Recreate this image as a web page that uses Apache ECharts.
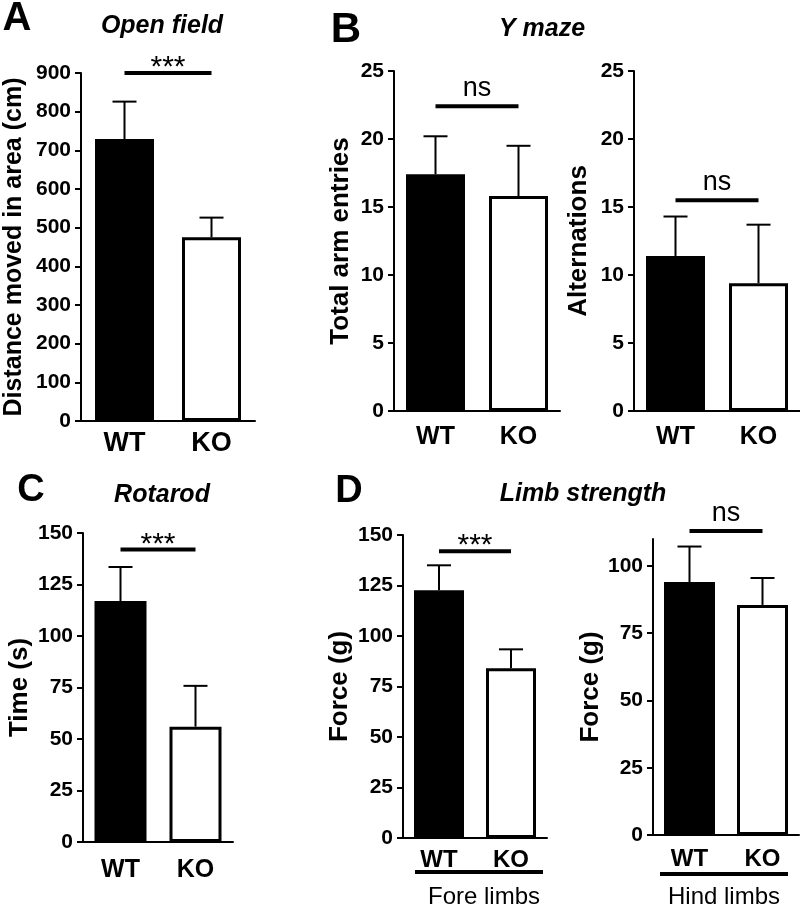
<!DOCTYPE html>
<html>
<head>
<meta charset="utf-8">
<script src="https://cdn.jsdelivr.net/npm/echarts@6/dist/echarts.min.js"></script>
<style>
  html, body { margin: 0; padding: 0; background: #fff; }
  #main { width: 800px; height: 906px; }
</style>
</head>
<body>
<div id="main"></div>
<script>
// groups on the x axis
var categories = ['WT', 'KO'];

// mean and SEM
var openFieldMean = [729, 475];
var openFieldSem = [97, 51];
var armEntriesMean = [17.4, 15.8];
var armEntriesSem = [2.8, 3.7];
var alternationsMean = [11.4, 9.4];
var alternationsSem = [2.9, 4.3];
var rotarodMean = [117, 56];
var rotarodSem = [16.5, 19.8];
var foreLimbMean = [122.7, 84];
var foreLimbSem = [12.3, 9.4];
var hindLimbMean = [94, 85.5];
var hindLimbSem = [13.2, 10];

// significance bars (label, height in data units)
var sigLabels = ['***', 'ns', 'ns', '***', '***', 'ns'];
var sigLevels = [900, 22.4, 15.5, 142, 142, 113];

// axis ranges
var yMax = [900, 25, 25, 150, 150, 110];
var yStep = [100, 5, 5, 25, 25, 25];
var hindTicks = [0, 25, 50, 75, 100];

var yNames = ['Distance moved in area (cm)', 'Total arm entries', 'Alternations',
  'Time (s)', 'Force (g)', 'Force (g)'];

var means = [openFieldMean, armEntriesMean, alternationsMean, rotarodMean, foreLimbMean, hindLimbMean];
var sems = [openFieldSem, armEntriesSem, alternationsSem, rotarodSem, foreLimbSem, hindLimbSem];

var FONT = '"Liberation Sans", Arial, Helvetica, sans-serif';

// layout of the six little plots
var panels = [
  { left: 81, top: 73, width: 174, height: 348, barWidth: 59, nameGap: 54, nameSize: 25, xSize: 27, xMargin: 9 },
  { left: 394, top: 71, width: 166, height: 340, barWidth: 59, nameGap: 40, nameSize: 26, xSize: 25, xMargin: 14 },
  { left: 634, top: 71, width: 166, height: 340, barWidth: 59, nameGap: 42, nameSize: 26, xSize: 25, xMargin: 14 },
  { left: 83, top: 533, width: 150, height: 309, barWidth: 52, nameGap: 50, nameSize: 26, xSize: 25, xMargin: 16 },
  { left: 403, top: 535, width: 144, height: 303, barWidth: 50, nameGap: 50, nameSize: 26, xSize: 24, xMargin: 10 },
  { left: 653, top: 539, width: 146, height: 296, barWidth: 51, nameGap: 41, nameSize: 26, xSize: 24, xMargin: 12 }
];

var grid = [], xAxis = [], yAxis = [], series = [];

panels.forEach(function (p, i) {
  grid.push({ left: p.left, top: p.top, width: p.width, height: p.height });

  xAxis.push({
    type: 'category', gridIndex: i, data: categories,
    axisLine: { lineStyle: { color: '#000', width: 2 } },
    axisTick: { alignWithLabel: true, length: 6, lineStyle: { color: '#000', width: 2 } },
    axisLabel: { color: '#000', fontWeight: 'bold', fontSize: p.xSize, fontFamily: FONT, margin: p.xMargin },
    splitLine: { show: false }
  });

  var ya = {
    type: 'value', gridIndex: i, min: 0, max: yMax[i], interval: yStep[i],
    name: yNames[i], nameLocation: 'middle', nameGap: p.nameGap,
    nameTextStyle: { color: '#000', fontWeight: 'bold', fontSize: p.nameSize, fontFamily: FONT },
    axisLine: { show: true, lineStyle: { color: '#000', width: 2 } },
    axisTick: { show: true, length: 6, lineStyle: { color: '#000', width: 2 } },
    axisLabel: { color: '#000', fontWeight: 'bold', fontSize: 21, fontFamily: FONT, margin: 10 },
    splitLine: { show: false }
  };
  if (i === 5) {
    ya.axisLabel.customValues = hindTicks;
    ya.axisTick.customValues = hindTicks;
  }
  yAxis.push(ya);

  series.push({
    type: 'bar', xAxisIndex: i, yAxisIndex: i, barWidth: p.barWidth, silent: true,
    data: means[i].map(function (v, k) {
      return {
        value: v,
        itemStyle: k === 0
          ? { color: '#000' }
          : { color: '#fff', borderColor: '#000', borderWidth: 3 }
      };
    })
  });

  // upper-only error bars
  series.push({
    type: 'custom', xAxisIndex: i, yAxisIndex: i, silent: true, z: 3,
    data: means[i].map(function (v, k) { return [k, v, v + sems[i][k]]; }),
    renderItem: function (params, api) {
      var a = api.coord([api.value(0), api.value(1)]);
      var b = api.coord([api.value(0), api.value(2)]);
      return {
        type: 'group', children: [
          { type: 'line', shape: { x1: a[0], y1: a[1], x2: b[0], y2: b[1] }, style: { stroke: '#000', lineWidth: 2 } },
          { type: 'line', shape: { x1: b[0] - 12, y1: b[1], x2: b[0] + 12, y2: b[1] }, style: { stroke: '#000', lineWidth: 2 } }
        ]
      };
    }
  });

  // significance bracket
  var lab = sigLabels[i];
  series.push({
    type: 'custom', xAxisIndex: i, yAxisIndex: i, silent: true, z: 3,
    data: [[0, 1, sigLevels[i]]],
    renderItem: function (params, api) {
      var a = api.coord([api.value(0), api.value(2)]);
      var b = api.coord([api.value(1), api.value(2)]);
      var star = lab === '***';
      return {
        type: 'group', children: [
          { type: 'line', shape: { x1: a[0], y1: a[1], x2: b[0], y2: b[1] }, style: { stroke: '#000', lineWidth: 4 } },
          {
            type: 'text', x: (a[0] + b[0]) / 2, y: star ? a[1] - 5 : a[1] - 4,
            style: {
              text: lab, align: 'center', verticalAlign: star ? 'middle' : 'bottom',
              fontSize: star ? 30 : 27, fontFamily: FONT, fill: '#000'
            }
          }
        ]
      };
    }
  });
});

function label(txt, x, y, size, weight, italic) {
  return {
    type: 'text', x: x, y: y,
    style: {
      text: txt, align: 'center', verticalAlign: 'middle', fill: '#000',
      fontSize: size, fontWeight: weight, fontStyle: italic ? 'italic' : 'normal', fontFamily: FONT
    }
  };
}

var graphic = [
  label('A', 17, 19, 40, 'bold'),
  label('B', 346, 30, 42, 'bold'),
  label('C', 31, 491, 38, 'bold'),
  label('D', 349, 492, 38, 'bold'),
  label('Open field', 162, 26, 25, 'bold', true),
  label('Y maze', 542, 29, 25, 'bold', true),
  label('Rotarod', 162, 495, 25, 'bold', true),
  label('Limb strength', 583, 494, 25, 'bold', true),
  { type: 'rect', shape: { x: 415, y: 870, width: 128, height: 4 }, style: { fill: '#000' } },
  { type: 'rect', shape: { x: 660, y: 872, width: 128, height: 4 }, style: { fill: '#000' } },
  label('Fore limbs', 484, 897, 24, 'normal'),
  label('Hind limbs', 724, 897, 24, 'normal')
];

var chart = echarts.init(document.getElementById('main'), null, { renderer: 'canvas' });
chart.setOption({
  animation: false,
  backgroundColor: '#fff',
  grid: grid,
  xAxis: xAxis,
  yAxis: yAxis,
  series: series,
  graphic: graphic
});
</script>
</body>
</html>
